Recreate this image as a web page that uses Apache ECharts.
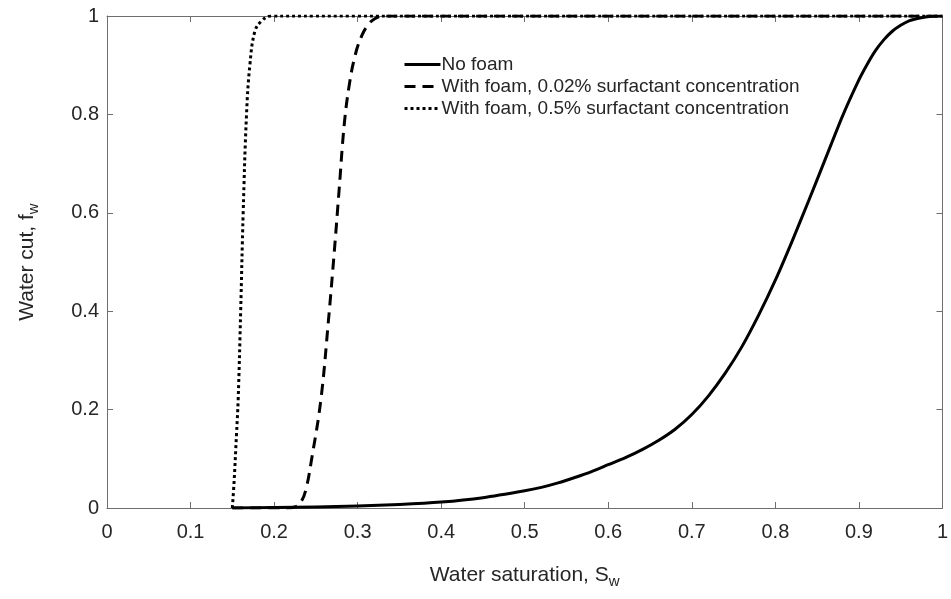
<!DOCTYPE html>
<html>
<head>
<meta charset="utf-8">
<script src="https://cdn.jsdelivr.net/npm/echarts@6/dist/echarts.min.js"></script>
<style>
  html, body { margin: 0; padding: 0; background: #fff; }
  #chart { width: 951px; height: 599px; }
</style>
</head>
<body>
<div id="chart"></div>
<script>
// Fractional-flow curves: water cut f_w against water saturation S_w
const seriesNames = [
  'No foam',
  'With foam, 0.02% surfactant concentration',
  'With foam, 0.5% surfactant concentration'
];

// No foam
const noFoamSw = [0.15, 0.2, 0.25, 0.3, 0.35, 0.4, 0.45, 0.5, 0.52, 0.54, 0.56, 0.58, 0.6, 0.62, 0.64, 0.66, 0.68, 0.7, 0.72, 0.74, 0.76, 0.78, 0.8, 0.82, 0.84, 0.86, 0.88, 0.9, 0.91, 0.92, 0.93, 0.94, 0.95, 0.96, 0.97, 0.98, 0.99, 1.0];
const noFoamFw = [0, 0.001, 0.002, 0.004, 0.007, 0.012, 0.021, 0.035, 0.042, 0.051, 0.062, 0.074, 0.088, 0.102, 0.118, 0.137, 0.16, 0.19, 0.228, 0.274, 0.328, 0.392, 0.463, 0.542, 0.625, 0.71, 0.795, 0.87, 0.902, 0.93, 0.952, 0.969, 0.981, 0.99, 0.995, 0.998, 0.9995, 1.0];

// Foam, 0.02% surfactant
const foamLowSw = [0.15, 0.215, 0.225, 0.232, 0.238, 0.245, 0.256, 0.265, 0.272, 0.278, 0.284, 0.29, 0.297, 0.305, 0.313, 0.321, 0.33, 0.4, 1.0];
const foamLowFw = [0, 0, 0.002, 0.012, 0.037, 0.1, 0.22, 0.38, 0.52, 0.65, 0.78, 0.86, 0.92, 0.96, 0.983, 0.995, 1.0, 1.0, 1.0];

// Foam, 0.5% surfactant
const foamHighSw = [0.15, 0.152, 0.155, 0.157, 0.16, 0.163, 0.167, 0.171, 0.177, 0.185, 0.196, 0.25, 1.0];
const foamHighFw = [0, 0.05, 0.15, 0.22, 0.4, 0.6, 0.8, 0.9, 0.969, 0.99, 1.0, 1.0, 1.0];

const xTicks = [0, 0.1, 0.2, 0.3, 0.4, 0.5, 0.6, 0.7, 0.8, 0.9, 1];
const yTicks = [0, 0.2, 0.4, 0.6, 0.8, 1];

const pairs = (xs, ys) => xs.map((x, i) => [x, ys[i]]);
const fmt = v => (Math.abs(v) < 1e-9 ? '0' : (Math.abs(v - 1) < 1e-9 ? '1' : String(+v.toFixed(1))));

const FONT = '"Liberation Sans", Arial, Helvetica, sans-serif';
const AX = '#6e6e6e';
const TXT = '#262626';

const chart = echarts.init(document.getElementById('chart'), null, { renderer: 'canvas' });

const baseAxis = {
  min: 0, max: 1, interval: 0.1,
  axisLine: { show: true, onZero: false, lineStyle: { color: AX, width: 1 } },
  axisTick: { show: true, inside: true, length: 6, lineStyle: { color: AX, width: 1 } },
  splitLine: { show: false }
};

const subRich = {
  sub: { fontSize: 15, fontFamily: FONT, color: TXT, padding: [12, 0, 0, 0] }
};

chart.setOption({
  animation: false,
  backgroundColor: '#fff',
  textStyle: { fontFamily: FONT },
  grid: { left: 107, right: 4, top: 16, bottom: 91, containLabel: false },
  legend: {
    data: seriesNames,
    orient: 'vertical',
    left: 398, top: 50,
    itemWidth: 36, itemHeight: 14, itemGap: 3,
    itemStyle: { opacity: 0 },
    lineStyle: { width: 3 },
    textStyle: { fontSize: 19, color: TXT, fontFamily: FONT, padding: [0, 0, 0, -4] }
  },
  xAxis: [
    Object.assign({}, baseAxis, {
      type: 'value', position: 'bottom',
      axisLabel: { show: true, margin: 14, fontSize: 20, color: TXT, fontFamily: FONT,
        formatter: v => (xTicks.some(t => Math.abs(t - v) < 1e-9) ? fmt(v) : '') },
      name: 'Water saturation, S{sub|w}',
      nameLocation: 'middle', nameGap: 54,
      nameTextStyle: { fontSize: 21, color: TXT, fontFamily: FONT, rich: subRich }
    }),
    Object.assign({}, baseAxis, {
      type: 'value', position: 'top',
      axisLabel: { show: false }
    })
  ],
  yAxis: [
    Object.assign({}, baseAxis, {
      type: 'value', position: 'left', interval: 0.2,
      axisLabel: { show: true, margin: 8, fontSize: 20, color: TXT, fontFamily: FONT,
        formatter: v => (yTicks.some(t => Math.abs(t - v) < 1e-9) ? fmt(v) : '') },
      name: 'Water cut, f{sub|w}',
      nameLocation: 'middle', nameGap: 66, nameRotate: 90,
      nameTextStyle: { fontSize: 21, color: TXT, fontFamily: FONT, rich: subRich }
    }),
    Object.assign({}, baseAxis, {
      type: 'value', position: 'right', interval: 0.2,
      axisLabel: { show: false }
    })
  ],
  series: [
    {
      name: seriesNames[0], type: 'line', data: pairs(noFoamSw, noFoamFw),
      smooth: 0.2, symbol: 'none', z: 3,
      lineStyle: { color: '#000', width: 3, type: 'solid', join: 'round' },
      itemStyle: { color: '#000' }
    },
    {
      name: seriesNames[1], type: 'line', data: pairs(foamLowSw, foamLowFw),
      smooth: 0.4, symbol: 'none', z: 4,
      lineStyle: { color: '#000', width: 3, type: [11, 7] },
      itemStyle: { color: '#000' }
    },
    {
      name: seriesNames[2], type: 'line', data: pairs(foamHighSw, foamHighFw),
      smooth: 0.4, symbol: 'none', z: 5,
      lineStyle: { color: '#000', width: 3, type: [3, 3] },
      itemStyle: { color: '#000' }
    }
  ]
});
</script>
</body>
</html>
